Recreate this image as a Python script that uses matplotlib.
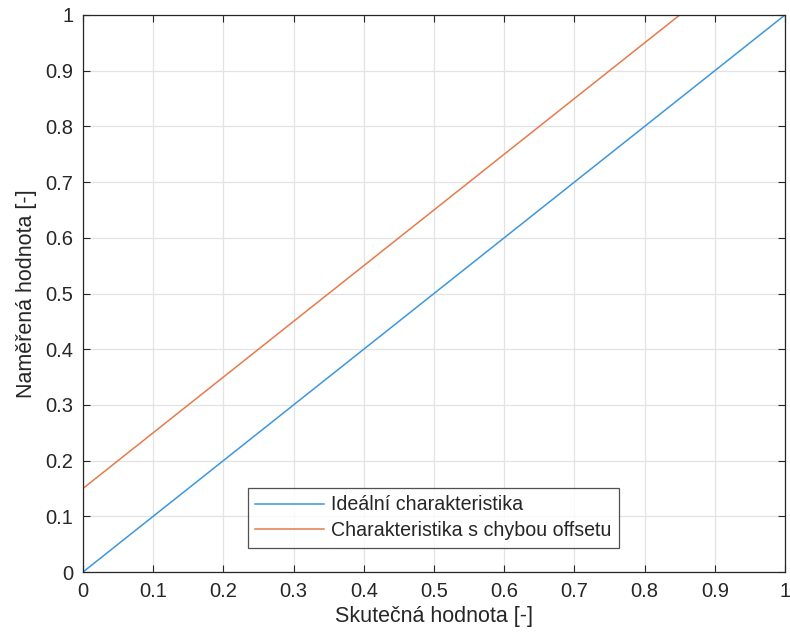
import numpy as np
import matplotlib.pyplot as plt

plt.rcParams['font.family'] = ['Liberation Sans', 'DejaVu Sans']

# data
x_ideal = [0.0, 1.0]
y_ideal = [0.0, 1.0]
x_offset = [0.0, 0.85]
y_offset = [0.15, 1.0]
ticks = np.round(np.arange(0, 1.01, 0.1), 1)
tick_labels = ["0", "0.1", "0.2", "0.3", "0.4", "0.5", "0.6", "0.7", "0.8", "0.9", "1"]

fig = plt.figure(figsize=(7.9, 6.39), dpi=100)
ax = fig.add_axes([83/790, 1 - 572/639, (785 - 83)/790, (572 - 15)/639])

ax.plot(x_ideal, y_ideal, color="#3d97dc", linewidth=1.1, label="Ideální charakteristika")
ax.plot(x_offset, y_offset, color="#e77a4c", linewidth=1.1, label="Charakteristika s chybou offsetu")

ax.set_xlim(0, 1)
ax.set_ylim(0, 1)
ax.set_xticks(ticks)
ax.set_xticklabels(tick_labels)
ax.set_yticks(ticks)
ax.set_yticklabels(tick_labels)
ax.tick_params(direction="in", length=5, width=0.8, colors="#262626",
               labelsize=14.5, top=True, right=True, pad=7)

ax.grid(True, color="#e3e3e3", linewidth=0.9)
ax.set_axisbelow(True)
for s in ax.spines.values():
    s.set_color("#262626")
    s.set_linewidth(0.9)

ax.set_xlabel("Skutečná hodnota [-]", fontsize=15.5, color="#262626", labelpad=4)
ax.set_ylabel("Naměřená hodnota [-]", fontsize=15.5, color="#262626", labelpad=6)

leg = ax.legend(loc="lower center", bbox_to_anchor=(0.499, 0.026), fontsize=14.1,
                frameon=True, fancybox=False, edgecolor="#262626",
                handlelength=3.5, handletextpad=0.35, borderpad=0.4, labelspacing=0.33)
leg.get_frame().set_linewidth(0.9)
for t in leg.get_texts():
    t.set_color("#262626")

fig.savefig("out.png", dpi=100)
